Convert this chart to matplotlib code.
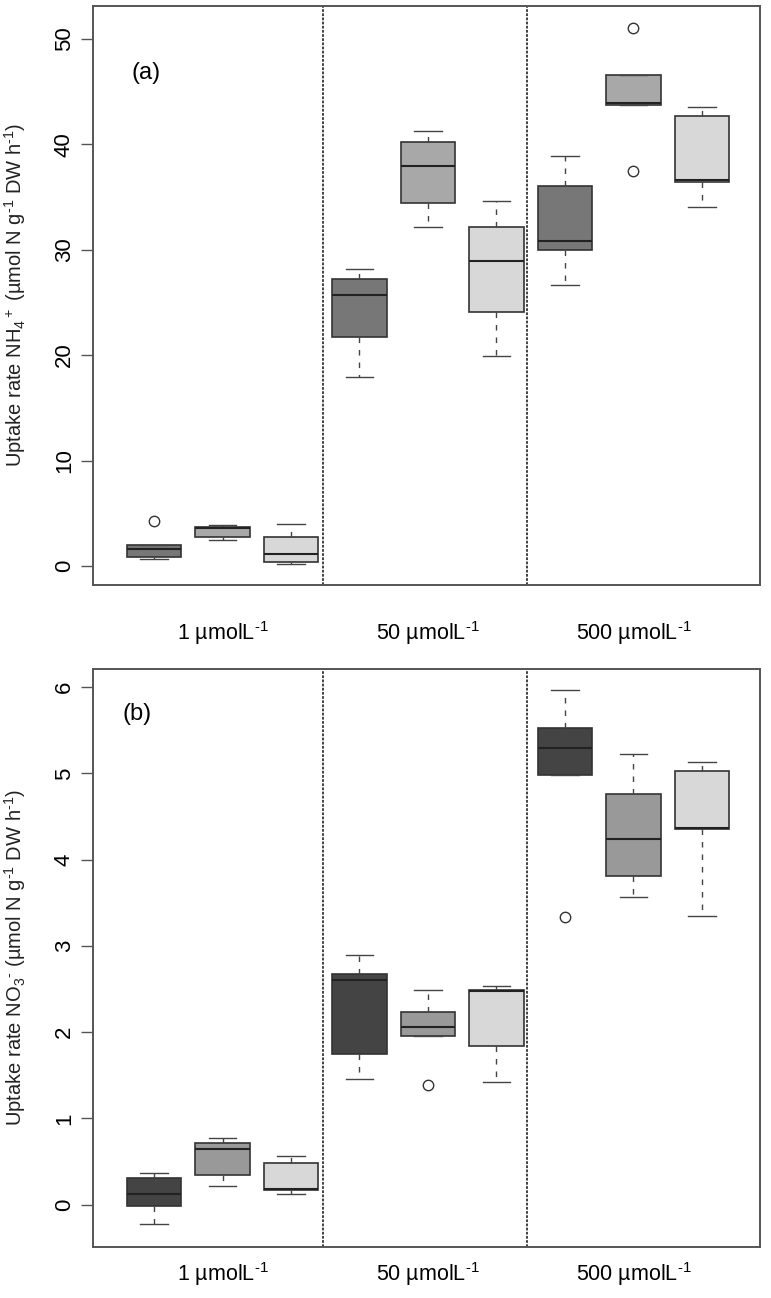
import matplotlib.pyplot as plt
import numpy as np
from matplotlib.transforms import offset_copy

plt.rcParams["font.family"] = ["Liberation Sans", "DejaVu Sans"]
plt.rcParams["mathtext.fontset"] = "custom"
plt.rcParams["mathtext.rm"] = "Liberation Sans"
plt.rcParams["mathtext.it"] = "Liberation Sans"

groups = [r"1 µmolL$^{\text{-}1}$", r"50 µmolL$^{\text{-}1}$", r"500 µmolL$^{\text{-}1}$"]

# panel (a) NH4+ uptake, three boxes per concentration
nh4_lo = [0.64, 2.5, 0.23, 17.9, 32.1, 19.9, 26.6, 43.7, 34.0]
nh4_q1 = [0.83, 2.78, 0.38, 21.7, 34.4, 24.1, 30.0, 43.7, 36.4]
nh4_med = [1.65, 3.65, 1.13, 25.7, 37.95, 28.9, 30.8, 43.9, 36.6]
nh4_q3 = [1.95, 3.72, 2.78, 27.2, 40.2, 32.1, 36.0, 46.6, 42.7]
nh4_hi = [1.95, 3.87, 4.0, 28.2, 41.25, 34.6, 38.9, 46.6, 43.5]
nh4_fliers = [[4.3], [], [], [], [], [], [], [51.0, 37.5], []]

# panel (b) NO3- uptake
no3_lo = [-0.22, 0.214, 0.126, 1.458, 1.958, 1.424, 4.976, 3.57, 3.343]
no3_q1 = [-0.015, 0.345, 0.17, 1.745, 1.958, 1.84, 4.976, 3.805, 4.35]
no3_med = [0.13, 0.646, 0.18, 2.61, 2.06, 2.48, 5.29, 4.24, 4.363]
no3_q3 = [0.306, 0.71, 0.48, 2.68, 2.235, 2.49, 5.53, 4.757, 5.03]
no3_hi = [0.37, 0.77, 0.57, 2.896, 2.49, 2.53, 5.967, 5.22, 5.136]
no3_fliers = [[], [], [], [], [1.385], [], [3.34], [], []]

colors_a = ["#777777", "#a8a8a8", "#d8d8d8"]
colors_b = ["#444444", "#999999", "#d8d8d8"]


def draw_panel(ax, lo, q1, med, q3, hi, fliers, colors, ylabel, tag, tag_xy,
               yticks, ylim, label_drop):
    stats = []
    for i in range(len(med)):
        stats.append(dict(whislo=lo[i], q1=q1[i], med=med[i], q3=q3[i],
                          whishi=hi[i], fliers=fliers[i]))
    pos = np.arange(1, len(med) + 1)
    bp = ax.bxp(stats, positions=pos, widths=0.8, patch_artist=True,
                boxprops=dict(edgecolor="#333333", linewidth=1.2),
                medianprops=dict(color="#222222", linewidth=1.5),
                whiskerprops=dict(color="#444444", linewidth=1.0, linestyle=(0, (4, 5))),
                capprops=dict(color="#444444", linewidth=1.0),
                capwidths=0.4,
                flierprops=dict(marker="o", markerfacecolor="none",
                                markeredgecolor="#333333", markersize=7.5,
                                markeredgewidth=1.0))
    for i, b in enumerate(bp["boxes"]):
        b.set_facecolor(colors[i % 3])
    for xv in [3.47, 6.45]:
        ax.axvline(xv, color="#333333", linewidth=1.3, linestyle=(0, (1.5, 0.8)))
    ax.set_xlim(0.109, 9.847)
    ax.set_ylim(*ylim)
    ax.set_yticks(yticks)
    ax.set_xticks([])
    ax.tick_params(axis="y", length=9, width=1, color="#555555", labelsize=16, pad=4)
    for lab in ax.get_yticklabels():
        lab.set_rotation(90)
        lab.set_va("center")
    for s in ax.spines.values():
        s.set_color("#555555")
        s.set_linewidth(1.4)
    ax.set_ylabel(ylabel, fontsize=14.5, color="#222222")
    ax.yaxis.set_label_coords(-0.098, 0.5)
    ax.text(tag_xy[0], tag_xy[1], tag, fontsize=17, ha="center", va="center")
    tr = offset_copy(ax.get_xaxis_transform(), fig=ax.figure, x=0, y=-label_drop, units="dots")
    for j, g in enumerate(groups):
        ax.text(2 + 3 * j, 0, g, transform=tr, ha="center", va="center", fontsize=15.5)


fig = plt.figure(figsize=(7.71, 12.98), dpi=100)
ax1 = fig.add_axes([0.1206, 0.5493, 0.8651, 0.4461])
ax2 = fig.add_axes([0.1206, 0.0393, 0.8651, 0.4453])

draw_panel(ax1, nh4_lo, nh4_q1, nh4_med, nh4_q3, nh4_hi, nh4_fliers, colors_a,
           r"Uptake rate NH$_4$$^+$ (µmol N g$^{\text{-}1}$ DW h$^{\text{-}1}$)", "(a)", (0.88, 46.7),
           [0, 10, 20, 30, 40, 50], (-1.8, 53.1), 48)
draw_panel(ax2, no3_lo, no3_q1, no3_med, no3_q3, no3_hi, no3_fliers, colors_b,
           r"Uptake rate NO$_3$$^{\text{-}}$ (µmol N g$^{\text{-}1}$ DW h$^{\text{-}1}$)", "(b)", (0.75, 5.69),
           [0, 1, 2, 3, 4, 5, 6], (-0.49, 6.21), 27)

fig.savefig("out.png", dpi=100)
plt.close(fig)
